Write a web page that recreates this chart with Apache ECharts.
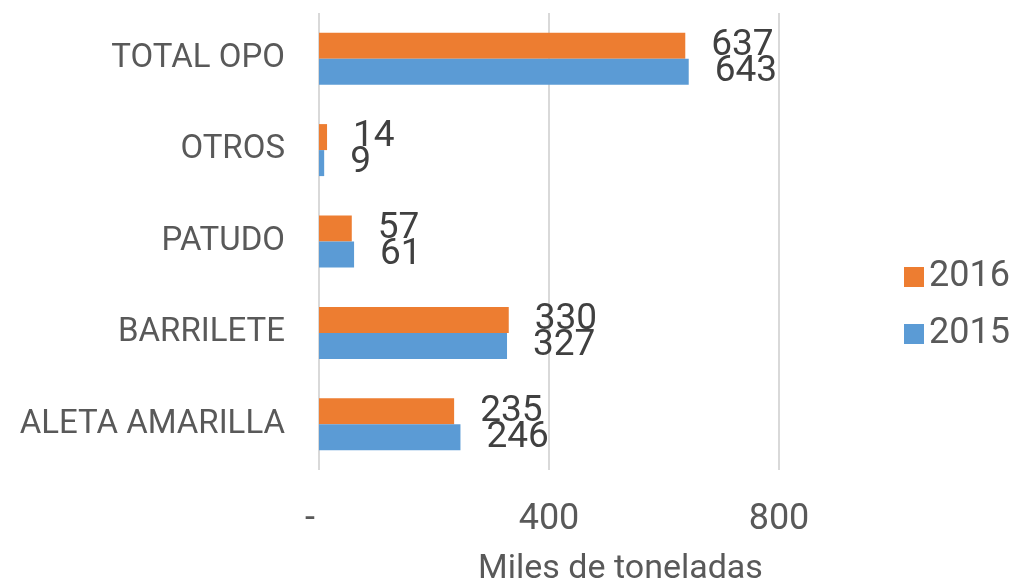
<!DOCTYPE html>
<html>
<head>
<meta charset="utf-8">
<script src="https://cdn.jsdelivr.net/npm/echarts@6/dist/echarts.min.js"></script>
<style>
    html, body { margin: 0; padding: 0; background: #FFFFFF; }
    #chart { width: 1022px; height: 580px; }
</style>
</head>
<body>
<div id="chart"></div>
<script>
// categorias de arriba hacia abajo
const categories = ['TOTAL OPO', 'OTROS', 'PATUDO', 'BARRILETE', 'ALETA AMARILLA'];
const values2016 = [637, 14, 57, 330, 235];
const values2015 = [643, 9, 61, 327, 246];

const fontName = 'Roboto';
const chart = echarts.init(document.getElementById('chart'));

const option = {
    animation: false,
    textStyle: { fontFamily: fontName },
    legend: {
        orient: 'vertical',
        left: 899,
        top: 254,
        itemWidth: 20,
        itemHeight: 20,
        itemGap: 21,
        icon: 'rect',
        textStyle: { fontSize: 36, color: '#595959', fontFamily: fontName },
        data: ['2016', '2015']
    },
    grid: {
        left: 319,
        top: 13,
        width: 575,
        height: 457,
        outerBoundsMode: 'none',
        containLabel: false
    },
    xAxis: {
        type: 'value',
        min: 0,
        max: 1000,
        interval: 400,
        axisLine: { show: false },
        axisTick: { show: false },
        splitLine: {
            showMaxLine: false,
            lineStyle: { color: '#D9D9D9', width: 2 }
        },
        axisLabel: {
            showMaxLabel: false,
            margin: 32,
            fontSize: 36,
            color: '#595959',
            formatter: function (v) {
                return v === 0 ? '-  ' : String(v);
            }
        },
        name: 'Miles de toneladas',
        nameLocation: 'middle',
        nameGap: 82,
        nameTextStyle: { fontSize: 34, color: '#595959', padding: [0, 0, 0, 28] }
    },
    yAxis: {
        type: 'category',
        inverse: true,
        data: categories,
        axisLine: { show: false },
        axisTick: { show: false },
        axisLabel: { fontSize: 33, color: '#595959', margin: 34 }
    },
    series: [
        {
            name: '2016',
            type: 'bar',
            data: values2016,
            barWidth: 26,
            barGap: '0%',
            itemStyle: { color: '#ED7D31' },
            label: {
                show: true,
                position: 'right',
                distance: 26,
                fontSize: 37,
                color: '#404040'
            }
        },
        {
            name: '2015',
            type: 'bar',
            data: values2015,
            barWidth: 26,
            barGap: '0%',
            itemStyle: { color: '#5B9BD5' },
            label: {
                show: true,
                position: 'right',
                distance: 26,
                fontSize: 37,
                color: '#404040'
            }
        }
    ]
};

chart.setOption(option);
</script>
</body>
</html>
